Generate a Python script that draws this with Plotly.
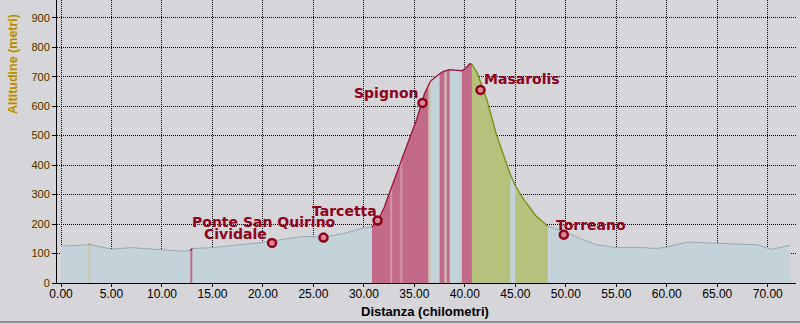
import numpy as np
import plotly.graph_objects as go

# Elevation profile: distance (km) and altitude (m)
dist_km = [0.0, 1.5, 2.7, 2.9, 4.0, 5.0, 7.0, 9.0, 11.0, 12.0, 12.8, 13.0, 15.0, 17.5,
           20.0, 22.0, 24.0, 26.0, 28.0, 29.9, 30.8, 31.4, 32.0, 32.6, 32.8, 33.6, 33.8,
           34.2, 35.2, 36.0, 36.4, 36.6, 36.9, 37.5, 37.9, 38.0, 38.2, 38.5, 39.0, 39.7,
           40.0, 40.5, 40.7, 41.2, 42.2, 43.1, 44.5, 45.0, 45.8, 47.0, 48.2, 49.9, 51.5,
           53.0, 55.0, 57.0, 59.0, 60.0, 62.0, 64.9, 67.0, 68.9, 70.4, 72.2]
alt_m = [125, 128, 132, 130, 122, 115, 120, 116, 112, 108, 110, 117, 120, 128,
         138, 148, 158, 155, 168, 186, 190, 212, 255, 314, 332, 405, 424,
         461, 552, 642, 672, 685, 693, 710, 718, 719, 721, 724, 722, 720,
         727, 744, 742, 715, 619, 506, 368, 330, 285, 229, 193, 173, 150,
         130, 120, 121, 117, 122, 139, 134, 132, 130, 114, 128]

# Gradient bands under the profile (start km, end km, class)
band_start = [2.7, 12.8, 30.8, 32.6, 33.6, 36.4, 37.5, 38.0, 38.2, 39.7, 40.7, 45.0]
band_end = [2.9, 13.0, 36.4, 32.8, 33.8, 36.6, 38.0, 38.2, 38.5, 40.7, 44.5, 48.2]
band_class = ["piano", "salita", "salita", "salita_lieve", "salita_lieve", "beige",
              "salita", "beige", "salita", "salita", "discesa", "discesa"]

# Coloured ridge line over the climbs and descents
ridge_start = [2.7, 12.8, 30.8, 40.7]
ridge_end = [2.9, 13.0, 40.7, 48.2]
ridge_class = ["piano", "salita", "salita", "discesa"]

# Named places along the route
place_name = ["Cividale", "Ponte San Quirino", "Tarcetta", "Spignon", "Masarolis", "Torreano"]
place_km = [20.9, 26.0, 31.35, 35.8, 41.55, 49.8]
place_alt = [136, 154, 212, 611, 655, 164]

x_ticks = [0, 5, 10, 15, 20, 25, 30, 35, 40, 45, 50, 55, 60, 65, 70]
y_ticks = [0, 100, 200, 300, 400, 500, 600, 700, 800, 900]

# ---- styles ----
BG = "#d5d5da"
fill_colors = {
    "salita": "#c26a8a",
    "salita_lieve": "#d296a8",
    "beige": "#d8bba6",
    "discesa": "#b6c27b",
    "piano": "#cdc6a6",
}
line_colors = {
    "salita": "#a0103c",
    "discesa": "#7d8e12",
    "piano": "#8a8a30",
}
label_pos = {  # xanchor, xshift, yshift
    "Cividale": ("right", -3, 9),
    "Ponte San Quirino": ("right", 14, 16),
    "Tarcetta": ("right", 1, 10),
    "Spignon": ("right", -2, 10),
    "Masarolis": ("left", 1, 11),
    "Torreano": ("left", -10, 10),
}

x = np.array(dist_km, dtype=float)
y = np.array(alt_m, dtype=float)

fig = go.Figure()

# base profile
fig.add_trace(go.Scatter(x=x, y=y, mode="lines", fill="tozeroy",
                         fillcolor="#c4d3d9", line=dict(color="#93abb7", width=1),
                         hoverinfo="skip", showlegend=False))

# gradient bands
for s, e, c in zip(band_start, band_end, band_class):
    m = (x >= s - 1e-9) & (x <= e + 1e-9)
    fig.add_trace(go.Scatter(x=x[m], y=y[m], mode="lines", fill="tozeroy",
                             fillcolor=fill_colors[c], line=dict(width=0),
                             hoverinfo="skip", showlegend=False))

# ridge lines
for s, e, c in zip(ridge_start, ridge_end, ridge_class):
    m = (x >= s - 1e-9) & (x <= e + 1e-9)
    fig.add_trace(go.Scatter(x=x[m], y=y[m], mode="lines",
                             line=dict(color=line_colors[c], width=1.3),
                             hoverinfo="skip", showlegend=False))

# place markers
fig.add_trace(go.Scatter(x=place_km, y=place_alt, mode="markers",
                         marker=dict(symbol="circle", size=8, color="#d88898",
                                     line=dict(color="#900018", width=2.5)),
                         hoverinfo="skip", showlegend=False))

for name, km, alt in zip(place_name, place_km, place_alt):
    xa, xs, ys = label_pos[name]
    fig.add_annotation(x=km, y=alt, xref="x", yref="y", text=name, showarrow=False,
                       xanchor=xa, yanchor="middle", xshift=xs, yshift=ys,
                       font=dict(family="DejaVu Sans", size=14, color="#900018",
                                 weight="bold"))

L, R, T, B = 57, 4, 0, 41
W, H = 800, 324
pw, ph = W - L - R, H - T - B

# axis titles
fig.add_annotation(xref="paper", yref="paper", x=(425 - L) / pw, y=(ph - (311 - T)) / ph,
                   text="Distanza (chilometri)", showarrow=False,
                   xanchor="center", yanchor="middle",
                   font=dict(family="Liberation Sans", size=13, color="#000000", weight="bold"))
fig.add_annotation(xref="paper", yref="paper", x=(13 - L) / pw, y=(ph - (64 - T)) / ph,
                   text="Altitudine (metri)", showarrow=False, textangle=-90,
                   xanchor="center", yanchor="middle",
                   font=dict(family="Liberation Sans", size=12.5, color="#b48a08", weight="bold",
                             shadow="0px 0px 2px #e8dc90"))

# outer frame line at the bottom
fig.add_shape(type="line", xref="paper", yref="paper",
              x0=-L / pw, x1=(W - L) / pw, y0=(ph - (322 - T)) / ph, y1=(ph - (322 - T)) / ph,
              line=dict(color="#505050", width=1))

fig.update_layout(
    width=W, height=H,
    margin=dict(l=L, r=R, t=T, b=B, pad=0),
    paper_bgcolor=BG, plot_bgcolor=BG,
    showlegend=False,
    xaxis=dict(range=[-0.4, 72.8], tickvals=x_ticks, tickformat=".2f",
               showgrid=True, gridcolor="#000000", griddash="1px,1px", gridwidth=1,
               showline=True, linecolor="#000000", linewidth=1,
               ticks="outside", ticklen=3, tickcolor="#000000",
               ticklabelstandoff=-3,
               tickfont=dict(family="Liberation Sans", size=12, color="#000000"),
               zeroline=False, fixedrange=True),
    yaxis=dict(range=[0, 960], tickvals=y_ticks,
               showgrid=True, gridcolor="#000000", griddash="1px,1px", gridwidth=1,
               showline=True, linecolor="#000000", linewidth=1,
               ticks="outside", ticklen=4, tickcolor="#000000",
               tickfont=dict(family="Liberation Sans", size=11, color="#4a3000",
                             shadow="0px 0px 2px #e8d880"),
               zeroline=False, fixedrange=True),
)

fig.write_html("out.html")
